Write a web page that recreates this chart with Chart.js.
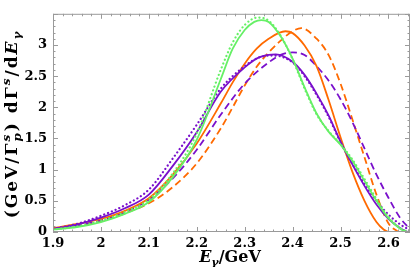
<!DOCTYPE html>
<html>
<head>
<meta charset="utf-8">
<script src="https://cdn.jsdelivr.net/npm/chart.js@4"></script>
<style>
  html, body { margin: 0; padding: 0; background: #fff; }
  #c { display: block; }
</style>
</head>
<body>
<canvas id="c" width="411" height="267"></canvas>
<script>
// ==== Data ====
var xTicks = [1.9, 2.0, 2.1, 2.2, 2.3, 2.4, 2.5, 2.6]
var yTicks = [0, 0.5, 1, 1.5, 2, 2.5, 3]

// purple, solid
var purpleSolidX = [1.9, 1.95, 2.0, 2.05, 2.1, 2.15, 2.2, 2.25, 2.3, 2.33, 2.365, 2.4, 2.425, 2.45, 2.475, 2.5, 2.525, 2.55, 2.575, 2.6, 2.625, 2.64]
var purpleSolidY = [0.05, 0.12, 0.23, 0.38, 0.60, 1.06, 1.60, 2.25, 2.64, 2.80, 2.85, 2.73, 2.52, 2.22, 1.87, 1.45, 1.08, 0.74, 0.44, 0.21, 0.06, 0.0]
// purple, dotted
var purpleDotX = [1.9, 1.95, 2.0, 2.05, 2.1, 2.15, 2.2, 2.25, 2.3, 2.33, 2.36, 2.4, 2.425, 2.45, 2.475, 2.5, 2.525, 2.55, 2.575, 2.6, 2.625, 2.645]
var purpleDotY = [0.05, 0.13, 0.26, 0.43, 0.68, 1.18, 1.72, 2.30, 2.66, 2.80, 2.83, 2.72, 2.50, 2.20, 1.85, 1.44, 1.09, 0.77, 0.50, 0.28, 0.12, 0.03]
// purple, dashed
var purpleDashX = [1.9, 1.95, 2.0, 2.05, 2.1, 2.15, 2.2, 2.25, 2.3, 2.35, 2.375, 2.4, 2.425, 2.45, 2.475, 2.5, 2.525, 2.55, 2.575, 2.6, 2.625, 2.645]
var purpleDashY = [0.05, 0.10, 0.19, 0.32, 0.52, 0.86, 1.32, 1.88, 2.38, 2.72, 2.84, 2.88, 2.84, 2.66, 2.43, 2.13, 1.76, 1.34, 0.92, 0.55, 0.22, 0.05]
// orange, solid
var orangeSolidX = [1.9, 1.95, 2.0, 2.05, 2.1, 2.15, 2.2, 2.25, 2.275, 2.3, 2.325, 2.35, 2.385, 2.4, 2.425, 2.45, 2.475, 2.5, 2.525, 2.55, 2.575, 2.59, 2.6]
var orangeSolidY = [0.06, 0.13, 0.21, 0.34, 0.54, 0.92, 1.42, 2.06, 2.40, 2.70, 2.94, 3.10, 3.22, 3.19, 2.99, 2.66, 2.12, 1.52, 0.96, 0.50, 0.16, 0.04, 0.0]
// orange, dashed
var orangeDashX = [1.9, 1.95, 2.0, 2.05, 2.1, 2.15, 2.2, 2.25, 2.275, 2.3, 2.325, 2.35, 2.375, 2.4, 2.418, 2.45, 2.475, 2.5, 2.525, 2.55, 2.575, 2.6, 2.62]
var orangeDashY = [0.05, 0.10, 0.18, 0.30, 0.46, 0.72, 1.10, 1.66, 2.00, 2.35, 2.65, 2.88, 3.07, 3.22, 3.27, 3.10, 2.84, 2.38, 1.80, 1.20, 0.60, 0.14, 0.0]
// green, solid
var greenSolidX = [1.9, 1.95, 2.0, 2.05, 2.1, 2.15, 2.2, 2.25, 2.275, 2.3, 2.32, 2.335, 2.35, 2.375, 2.4, 2.425, 2.45, 2.475, 2.5, 2.525, 2.55, 2.575, 2.6, 2.625, 2.64]
var greenSolidY = [0.04, 0.08, 0.16, 0.29, 0.48, 0.88, 1.48, 2.45, 2.94, 3.24, 3.37, 3.40, 3.37, 3.14, 2.78, 2.32, 1.90, 1.61, 1.40, 1.14, 0.82, 0.50, 0.22, 0.05, 0.0]
// green, dotted
var greenDotX = [1.9, 1.95, 2.0, 2.05, 2.1, 2.15, 2.2, 2.25, 2.275, 2.3, 2.327, 2.35, 2.375, 2.4, 2.425, 2.45, 2.475, 2.5, 2.525, 2.55, 2.575, 2.6, 2.625, 2.64]
var greenDotY = [0.04, 0.09, 0.18, 0.32, 0.52, 0.94, 1.58, 2.60, 3.04, 3.32, 3.44, 3.39, 3.15, 2.77, 2.30, 1.89, 1.62, 1.41, 1.16, 0.85, 0.53, 0.24, 0.06, 0.0]

var PURPLE = '#7a10cc'
var ORANGE = '#ff6a00'
var GREEN = '#66f066'
var FRAME = '#9a9a9a'
var FONT = '"DejaVu Serif", "Liberation Serif", serif'

function pts(xs, ys) {
    var out = []
    for (var i = 0; i < xs.length; i++) out.push({x: xs[i], y: ys[i]})
    return out
}

function line(xs, ys, color, style) {
    var ds = {
        data: pts(xs, ys),
        borderColor: color,
        borderWidth: 1.8,
        fill: false,
        pointRadius: 0,
        cubicInterpolationMode: 'monotone',
    }
    if (style == 'dash') ds.borderDash = [7, 4]
    if (style == 'dot') { ds.borderDash = [0.1, 4]; ds.borderCapStyle = 'round'; ds.borderWidth = 2.2 }
    return ds
}

// draw text pieces one after another (sub/superscripts), centred on x=0
function richText(ctx, pieces, size, spacing) {
    var total = 0
    pieces.forEach(function(p) {
        ctx.font = p.f.replace('S', (size * (p.s || 1)).toFixed(1) + 'px')
        p.w = 0
        for (var k = 0; k < p.t.length; k++) p.w += ctx.measureText(p.t[k]).width + spacing
        if (!p.stack) total += p.w
    })
    var x = -total / 2
    var last = 0
    pieces.forEach(function(p) {
        ctx.font = p.f.replace('S', (size * (p.s || 1)).toFixed(1) + 'px')
        var px = p.stack ? x - last : x
        for (var k = 0; k < p.t.length; k++) {
            ctx.fillText(p.t[k], px, (p.dy || 0) * size)
            px += ctx.measureText(p.t[k]).width + spacing
        }
        if (p.stack) { x = Math.max(x, px) } else { last = p.w; x = px }
    })
}

var framePlugin = {
    id: 'frame',
    afterDraw: function(chart) {
        var ctx = chart.ctx
        var a = chart.chartArea
        var xs = chart.scales.x, ys = chart.scales.y
        ctx.save()
        ctx.strokeStyle = FRAME
        ctx.lineWidth = 1
        ctx.strokeRect(a.left + 0.5, a.top + 0.5, a.right - a.left - 1, a.bottom - a.top - 1)
        ctx.beginPath()
        // x ticks, every 0.02, major every 0.1
        for (var i = 0; i <= 37; i++) {
            var v = 1.9 + i * 0.02
            var p = Math.round(xs.getPixelForValue(v)) + 0.5
            var len = (i % 5 == 0) ? 5 : 2.5
            ctx.moveTo(p, a.bottom); ctx.lineTo(p, a.bottom - len)
            ctx.moveTo(p, a.top); ctx.lineTo(p, a.top + len)
        }
        // y ticks, every 0.1, major every 0.5
        for (var j = 0; j <= 35; j++) {
            var q = Math.round(ys.getPixelForValue(j * 0.1)) + 0.5
            var l2 = (j % 5 == 0) ? 5 : 2.5
            ctx.moveTo(a.left, q); ctx.lineTo(a.left + l2, q)
            ctx.moveTo(a.right, q); ctx.lineTo(a.right - l2, q)
        }
        ctx.stroke()

        // axis titles
        ctx.fillStyle = '#000'
        ctx.textBaseline = 'alphabetic'
        ctx.textAlign = 'left'
        var B = 'bold S ' + FONT, BI = 'italic bold S ' + FONT
        ctx.save()
        ctx.translate(230, 262)
        richText(ctx, [
            {t: 'E', f: BI},
            {t: '\u03b3', f: BI, s: 0.7, dy: 0.22},
            {t: '/GeV', f: B},
        ], 16, 0)
        ctx.restore()

        ctx.save()
        ctx.translate(17, 124)
        ctx.rotate(-Math.PI / 2)
        richText(ctx, [
            {t: '(GeV/\u0393', f: B},
            {t: 'p', f: BI, s: 0.7, dy: 0.25},
            {t: 's', f: BI, s: 0.7, dy: -0.42, stack: true},
            {t: ') d\u0393', f: B},
            {t: 's', f: BI, s: 0.7, dy: -0.42},
            {t: '/d', f: B},
            {t: 'E', f: BI},
            {t: '\u03b3', f: BI, s: 0.7, dy: 0.22},
        ], 17, 2)
        ctx.restore()
        ctx.restore()
    }
}

var ctx = document.getElementById('c').getContext('2d')
var config = {
    type: 'line',
    data: {
        datasets: [
            line(greenDotX, greenDotY, GREEN, 'dot'),
            line(greenSolidX, greenSolidY, GREEN, 'solid'),
            line(purpleDotX, purpleDotY, PURPLE, 'dot'),
            line(purpleSolidX, purpleSolidY, PURPLE, 'solid'),
            line(orangeSolidX, orangeSolidY, ORANGE, 'solid'),
            line(purpleDashX, purpleDashY, PURPLE, 'dash'),
            line(orangeDashX, orangeDashY, ORANGE, 'dash'),
        ],
    },
    options: {
        responsive: false,
        animation: false,
        layout: { padding: { top: 1, right: 1, left: 0, bottom: 0 } },
        plugins: { legend: false, tooltip: { enabled: false } },
        scales: {
            x: {
                type: 'linear',
                min: 1.9,
                max: 2.645,
                grid: { display: false, drawTicks: false },
                border: { display: false },
                afterFit: function(s) { s.height = 35 },
                afterBuildTicks: function(s) { s.ticks = xTicks.map(function(v) { return {value: v} }) },
                ticks: {
                    padding: 4,
                    color: '#000',
                    font: { family: FONT, size: 13, weight: 'bold' },
                    maxRotation: 0,
                    callback: function(v) { return String(Math.round(v * 10) / 10) },
                },
            },
            y: {
                min: 0,
                max: 3.5,
                grid: { display: false, drawTicks: false },
                border: { display: false },
                afterFit: function(s) { s.width = 53 },
                afterBuildTicks: function(s) { s.ticks = yTicks.map(function(v) { return {value: v} }) },
                ticks: {
                    padding: 6,
                    color: '#000',
                    font: { family: FONT, size: 13, weight: 'bold' },
                    callback: function(v) { return String(v) },
                },
            },
        },
    },
    plugins: [framePlugin],
}
new Chart(ctx, config)
</script>
</body>
</html>
